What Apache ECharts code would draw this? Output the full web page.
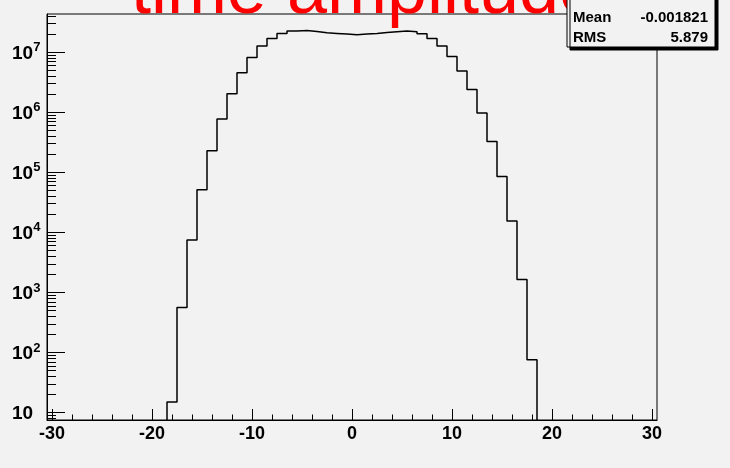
<!DOCTYPE html>
<html>
<head>
<meta charset="utf-8">
<script src="https://cdn.jsdelivr.net/npm/echarts@6/dist/echarts.min.js"></script>
<style>
html,body{margin:0;padding:0;background:#f2f2f2;}
#c{width:730px;height:468px;}
</style>
</head>
<body>
<div id="c"></div>
<script>
// ---- data (bin width 1, centres on integers) ----
const binCenters = [-18,-17,-16,-15,-14,-13,-12,-11,-10,-9,-8,-7,-6,-5,-4,-3,-2,-1,0,1,2,3,4,5,6,7,8,9,10,11,12,13,14,15,16,17,18];
const counts = [15,560,7450,51000,228000,770000,2.02e6,4.5e6,8.1e6,1.26e7,1.68e7,2.04e7,2.24e7,2.29e7,2.20e7,2.09e7,2.04e7,1.99e7,
                1.94e7,
                1.99e7,2.04e7,2.12e7,2.18e7,2.24e7,2.18e7,2.01e7,1.68e7,1.26e7,8.45e6,4.83e6,2.39e6,9.66e5,3.25e5,8.5e4,15400,1640,76];
const binWidth = 1;
const xTicks = [-30,-20,-10,0,10,20,30];
const xMinorTicks = [-28,-26,-24,-22,-18,-16,-14,-12,-8,-6,-4,-2,2,4,6,8,12,14,16,18,22,24,26,28];
const yTicks = [10,100,1000,10000,100000,1000000,10000000];
const xRange = [-30.5, 30.5];
const yRange = [7.56, 4.29e7];
const titleText = 'time amplitude';
const statsLabels = ['Mean','RMS'];
const statsValues = ['-0.001821','5.879'];

// minor log ticks 2..9 x 10^n
const yMinorTicks = [];
for (let e = 0; e <= 7; e++) for (let k = 2; k <= 9; k++) {
  const v = k * Math.pow(10, e);
  if (v > yRange[0] && v < yRange[1]) yMinorTicks.push(v);
}

// step outline built from the bins
const outline = [];
outline.push([binCenters[0] - binWidth/2, yRange[0]]);
binCenters.forEach((c, i) => {
  outline.push([c - binWidth/2, counts[i]]);
  outline.push([c + binWidth/2, counts[i]]);
});
outline.push([binCenters[binCenters.length-1] + binWidth/2, yRange[0]]);

const FONT = 'Liberation Sans, Arial, Helvetica, sans-serif';
const chart = echarts.init(document.getElementById('c'), null, {renderer:'canvas'});
const grid = {left:47, right:73, top:14, bottom:48, show:true, borderColor:'#000', borderWidth:1, backgroundColor:'transparent', outerBoundsMode:'none'};

chart.setOption({
  animation:false,
  backgroundColor:'#f2f2f2',
  grid: grid,
  xAxis: [{
    type:'value', min:xRange[0], max:xRange[1], position:'bottom',
    axisLine:{show:true, onZero:false, lineStyle:{color:'#000', width:1}},
    axisTick:{show:true, inside:true, length:11, customValues:xTicks, lineStyle:{color:'#000', width:1}},
    axisLabel:{show:true, customValues:xTicks, color:'#000', fontFamily:FONT, fontWeight:'bold', fontSize:18, margin:5},
    splitLine:{show:false}
  },{
    type:'value', min:xRange[0], max:xRange[1], position:'bottom',
    axisLine:{show:false, onZero:false},
    axisTick:{show:true, inside:true, length:5.5, customValues:xMinorTicks, lineStyle:{color:'#000', width:1}},
    axisLabel:{show:false},
    splitLine:{show:false}
  }],
  yAxis: [{
    type:'log', logBase:10, min:yRange[0], max:yRange[1], position:'left',
    axisLine:{show:true, onZero:false, lineStyle:{color:'#000', width:1}},
    axisTick:{show:true, inside:true, length:18, customValues:yTicks, lineStyle:{color:'#000', width:1}},
    axisLabel:{show:true, customValues:yTicks, align:'left', margin:35,
      formatter: v => { const e = Math.round(Math.log10(v)); return e === 1 ? '{b|10}' : '{b|10}{s|' + e + '}'; },
      rich:{
        b:{fontFamily:FONT, fontWeight:'bold', fontSize:19, color:'#000', lineHeight:22, verticalAlign:'bottom'},
        s:{fontFamily:FONT, fontWeight:'bold', fontSize:13, color:'#000', lineHeight:22, verticalAlign:'top'}
      }},
    splitLine:{show:false}, minorTick:{show:false}
  },{
    type:'log', logBase:10, min:yRange[0], max:yRange[1], position:'left',
    axisLine:{show:false, onZero:false},
    axisTick:{show:true, inside:true, length:9, customValues:yMinorTicks, lineStyle:{color:'#000', width:1}},
    axisLabel:{show:false},
    splitLine:{show:false}
  }],
  series: [{
    type:'line', xAxisIndex:0, yAxisIndex:0, data:outline, symbol:'none',
    lineStyle:{color:'#000', width:1.5}, silent:true
  }],
  graphic: [
    {type:'text', z:100, left:'center', top:-43, style:{text:titleText, fill:'#ff0000', font:'72px ' + FONT}},
    {type:'rect', z:101, shape:{x:567, y:-10, width:148, height:57},
      style:{fill:'#f2f2f2', stroke:'#000', lineWidth:1, shadowColor:'#000', shadowOffsetX:3, shadowOffsetY:3, shadowBlur:0}},
    {type:'text', z:102, style:{text:statsLabels[0], x:573, y:18, fill:'#000', font:'bold 15px ' + FONT, verticalAlign:'middle', align:'left'}},
    {type:'text', z:102, style:{text:statsValues[0], x:708, y:18, fill:'#000', font:'bold 15px ' + FONT, verticalAlign:'middle', align:'right'}},
    {type:'text', z:102, style:{text:statsLabels[1], x:573, y:37.5, fill:'#000', font:'bold 15px ' + FONT, verticalAlign:'middle', align:'left'}},
    {type:'text', z:102, style:{text:statsValues[1], x:708, y:37.5, fill:'#000', font:'bold 15px ' + FONT, verticalAlign:'middle', align:'right'}}
  ]
});
</script>
</body>
</html>
